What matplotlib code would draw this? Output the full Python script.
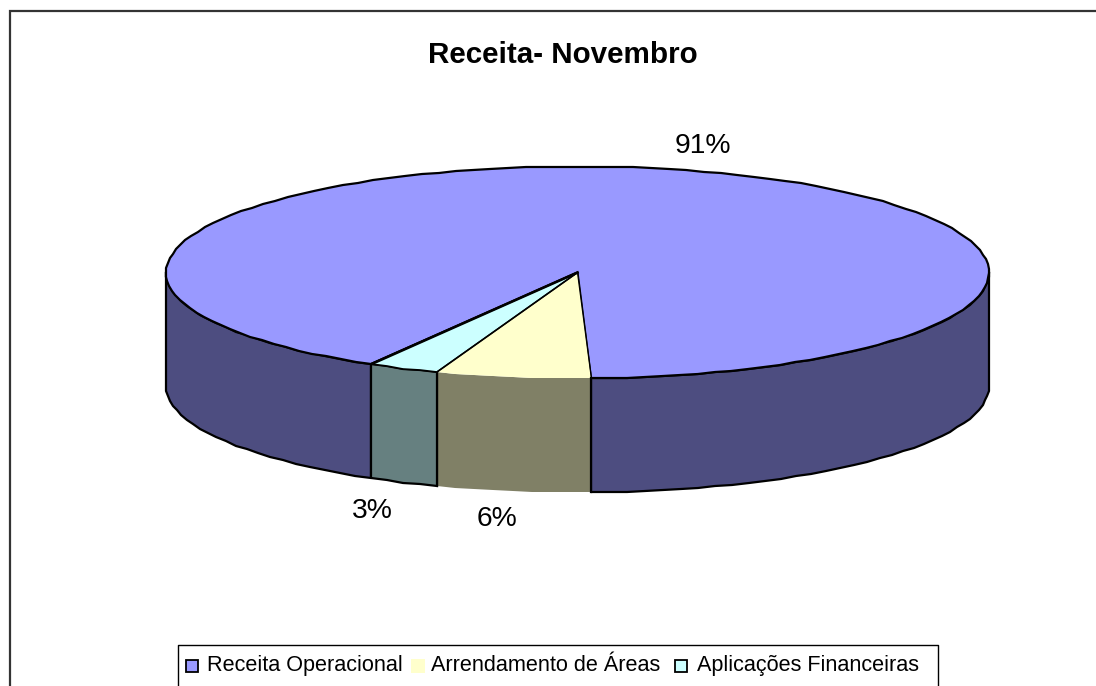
import numpy as np
import matplotlib
matplotlib.use("Agg")
import matplotlib.pyplot as plt
from matplotlib.patches import Polygon, Rectangle

plt.rcParams['font.family'] = ['Liberation Sans', 'DejaVu Sans']

title = "Receita- Novembro"
categories = ["Receita Operacional", "Arrendamento de Áreas", "Aplicações Financeiras"]
values = [91.1, 6.1, 2.8]
labels = ["91%", "6%", "3%"]
top_colors = ["#9999FF", "#FFFFCC", "#CCFFFF"]
side_colors = ["#4D4D80", "#808066", "#668080"]

fig = plt.figure(figsize=(10.96, 6.86), dpi=100)
ax = fig.add_axes([0, 0, 1, 1])
ax.set_xlim(0, 1096); ax.set_ylim(686, 0); ax.axis("off")

CX, CY, A, B, DEPTH = 577.5, 272.5, 411.5, 106.0, 114.0
START = -120.1  # ellipse-parameter angle at which the first slice begins (clockwise sweep)

def pt(t):
    t = np.radians(t)
    return CX + A*np.cos(t), CY - B*np.sin(t)

def arc(t0, t1, step=2.5):
    n = max(int(abs(t1 - t0)/step), 1)
    ts = np.linspace(t0, t1, n + 1)
    xs, ys = pt(ts)
    # slightly faceted outline, as in the reference
    return np.column_stack([np.round(xs), np.round(ys)])

fr = np.array(values)/sum(values)*360
ends = START - np.cumsum(fr)
starts = np.r_[START, ends[:-1]]
e0, e1, e2 = ends + 360

def side(a0, a1, face, edge, lw):
    ring = arc(a0, a1)
    poly = np.vstack([ring, ring[::-1] + [0, DEPTH]])
    ax.add_patch(Polygon(poly, closed=True, fc=face, ec=edge, lw=lw, zorder=2, joinstyle="round"))

# Operational slice wraps round: front pieces from -180 to its start and its end to 0
side(-180, starts[0], side_colors[0], "black", 1.6)
side(e0, 0, side_colors[0], "black", 1.6)
# slice 2 (no outer outline)
ring = arc(e1, e0)
ax.add_patch(Polygon(np.vstack([ring, ring[::-1] + [0, DEPTH]]), closed=True, fc=side_colors[1], ec="none", zorder=2.5))
xL, yL = pt(e1)
ax.plot([xL, xL], [yL, yL + DEPTH], color="black", lw=1.0, zorder=3)
# slice 3
side(e2, e1, side_colors[2], "black", 1.6)

# tops
def top(a0, a1, face, edge, lw, z):
    ring = arc(a0, a1)
    ax.add_patch(Polygon(np.vstack([[CX, CY], ring]), closed=True, fc=face, ec=edge, lw=lw, zorder=z, joinstyle="round"))

top(starts[0], ends[0], top_colors[0], "black", 1.6, 3)
ring = arc(e1, e0)
ax.add_patch(Polygon(np.vstack([[CX, CY], ring]), closed=True, fc=top_colors[1], ec="none", zorder=3.2))
for t in (e0, e1):
    x, y = pt(t)
    ax.plot([CX, x], [CY, y], color="black", lw=0.9, zorder=3.4)
top(e2, e1, top_colors[2], "black", 1.2, 3.3)
x, y = pt(e2)
ax.plot([CX, x], [CY, y], color="black", lw=1.9, zorder=3.5)
x, y = pt(e0)
ax.plot([x, x], [y, y + DEPTH], color="black", lw=1.6, zorder=3.5)

# chart frame
ax.plot([10, 10, 1096], [686, 11, 11], color="#333333", lw=1.6, zorder=5, solid_joinstyle="miter")

ax.text(562.5, 55, title, fontsize=21.3, fontweight="bold", ha="center", va="center", color="black")

lab_pos = [(703, 146), (497, 519), (372, 511)]
for s, (x, y) in zip(labels, lab_pos):
    ax.text(x, y, s, fontsize=20.3, ha="center", va="center", color="black")

# legend
ax.plot([178, 178, 938, 938], [686, 645, 645, 686], color="black", lw=1.0, zorder=5)
sw_x = [186, 411, 675]
tx_x = [207, 431, 697]
for i, c in enumerate(categories):
    if i == 1:
        ax.add_patch(Rectangle((sw_x[i], 659), 14, 14, fc=top_colors[i], ec="none", zorder=5))
    else:
        ax.add_patch(Rectangle((sw_x[i], 660), 12, 12, fc=top_colors[i], ec="black", lw=1.3, zorder=5))
    ax.text(tx_x[i], 671, c, fontsize=15.55, ha="left", va="baseline", color="black")

fig.savefig("out.png", dpi=100, facecolor="white")
